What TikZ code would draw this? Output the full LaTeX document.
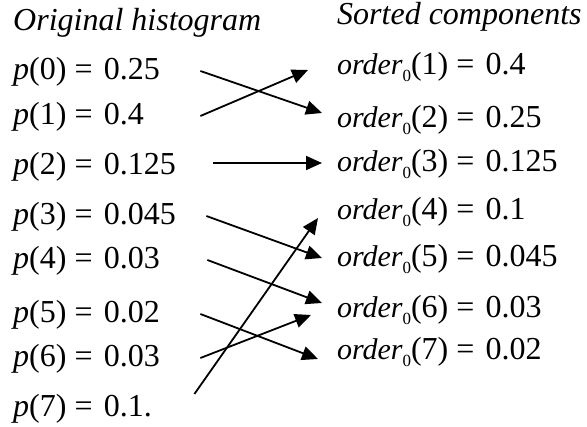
\documentclass[tikz,border=0pt]{standalone}
\usepackage{fontspec}
\setmainfont{Liberation Serif}
\usetikzlibrary{arrows.meta, positioning}

\newcommand{\ordz}{{\fontsize{30}{34}\selectfont\itshape order}\raisebox{-7pt}{\fontsize{17}{17}\selectfont 0}}
\newcommand{\eqs}{\hspace{0.25em}=\hspace{0.35em}}

\begin{document}
\begin{tikzpicture}[x=1pt, y=-1pt,
  head/.style={anchor=base west, inner sep=0pt,
               font=\fontsize{32}{36}\selectfont\itshape},
  hist/.style={anchor=base west, inner sep=0pt, text width=187pt, align=left,
               text height=24pt, text depth=6pt,
               font=\fontsize{32}{36}\selectfont},
  comp/.style={anchor=base west, inner sep=0pt, outer xsep=15pt,
               text height=24pt, text depth=6pt,
               font=\fontsize{32}{36}\selectfont},
  arr/.style={->, line width=1.8pt, >={Triangle[length=16pt, width=14pt]}}
]
\useasboundingbox (0,0) rectangle (587,427);

%% ---- Headings ----
\node[head] (horig) at (13,31) {Original histogram};
\node[head] (hsort) at (337,25) {Sorted components};

%% ---- Column 1: original histogram ----
\node[hist] (p0) at (13,80)  {\textit{p}(0)\eqs 0.25};
\node[hist] (p1) at (13,125) {\textit{p}(1)\eqs 0.4};
\node[hist] (p2) at (13,175) {\textit{p}(2)\eqs 0.125};
\node[hist] (p3) at (13,225) {\textit{p}(3)\eqs 0.045};
\node[hist] (p4) at (13,269) {\textit{p}(4)\eqs 0.03};
\node[hist] (p5) at (13,323) {\textit{p}(5)\eqs 0.02};
\node[hist] (p6) at (13,367) {\textit{p}(6)\eqs 0.03};
\node[hist] (p7) at (13,417) {\textit{p}(7)\eqs 0.1.};

%% ---- Column 2: sorted components ----
\node[comp] (o1) at (322,75)  {\ordz(1)\eqs 0.4};
\node[comp] (o2) at (322,128) {\ordz(2)\eqs 0.25};
\node[comp] (o3) at (322,172) {\ordz(3)\eqs 0.125};
\node[comp] (o4) at (322,220) {\ordz(4)\eqs 0.1};
\node[comp] (o5) at (322,267) {\ordz(5)\eqs 0.045};
\node[comp] (o6) at (322,318) {\ordz(6)\eqs 0.03};
\node[comp] (o7) at (322,360) {\ordz(7)\eqs 0.02};

%% ---- Arrows: histogram -> sorted ----
\draw[arr] (p0.east) -- ([yshift=6pt]o2.west);
\draw[arr] (p1.east) -- ([xshift=-14pt, yshift=-4pt]o1.west);
\draw[arr] ([xshift=13pt, yshift=3pt]p2.east) -- (o3.west);
\draw[arr] ([xshift=6pt]p3.east) -- (o5.west);
\draw[arr] ([xshift=7pt]p4.east) -- ([yshift=6pt]o6.west);
\draw[arr] (p5.east) -- ([xshift=-4pt, yshift=-8pt]o7.west);
\draw[arr] (p6.east) -- ([xshift=-11pt, yshift=-6pt]o6.west);
\draw[arr] ([xshift=-6pt, yshift=14pt]p7.east) -- ([xshift=-4pt, yshift=-7pt]o4.west);

\end{tikzpicture}
\end{document}
